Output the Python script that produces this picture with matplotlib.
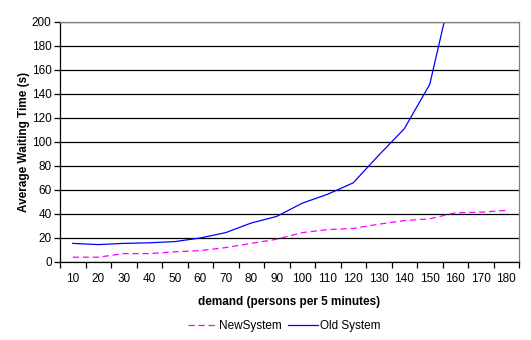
import numpy as np
import matplotlib
matplotlib.use("Agg")
import matplotlib.pyplot as plt

plt.rcParams['font.family'] = ['Liberation Sans', 'DejaVu Sans']

demand = [10, 20, 30, 40, 50, 60, 70, 80, 90, 100, 110, 120, 130, 140, 150, 160, 170, 180]
new_system = [4, 4, 7, 7, 8.5, 9.5, 12, 15.5, 19, 24.5, 27, 28, 31.5, 34.5, 36, 41, 41.5, 43]
old_system = [15.5, 14.5, 15.5, 16, 17, 20, 24.5, 32.5, 38, 49, 56.5, 66, 89, 111, 148, 240, None, None]

x = np.arange(len(demand))
old_vals = np.array([np.nan if v is None else v for v in old_system], dtype=float)

fig = plt.figure(figsize=(5.31, 3.40), dpi=100)
ax = fig.add_axes([60 / 531, 78 / 340, 459 / 531, 240 / 340])

ax.plot(x, new_system, color='#FF00FF', lw=0.9, dashes=(5, 3), label='NewSystem')
ax.plot(x, old_vals, color='#0000FF', lw=0.9, label='Old System')

ax.set_xlim(-0.5, len(demand) - 0.5)
ax.set_ylim(0, 200)
ax.set_yticks(np.arange(0, 201, 20))
ax.yaxis.grid(True, color='black', lw=0.9)
ax.set_axisbelow(True)

ax.set_xticks(np.arange(-0.5, len(demand), 1))
ax.set_xticklabels([])
ax.set_xticks(x, minor=True)
ax.set_xticklabels([str(d) for d in demand], minor=True)
ax.tick_params(axis='x', which='major', length=4, width=0.9, color='black', direction='out')
ax.tick_params(axis='x', which='minor', length=0, pad=8, labelsize=8.5)
ax.tick_params(axis='y', length=4, width=0.9, labelsize=8.5, pad=2)

for s in ['top', 'right']:
    ax.spines[s].set_color('#808080')
    ax.spines[s].set_linewidth(0.9)
for s in ['left', 'bottom']:
    ax.spines[s].set_color('black')
    ax.spines[s].set_linewidth(0.9)

ax.set_xlabel('demand (persons per 5 minutes)', fontsize=8.5, fontweight='bold', labelpad=8)
ax.set_ylabel('Average Waiting Time (s)', fontsize=8.5, fontweight='bold', labelpad=1)

fig.legend(loc='center', bbox_to_anchor=(284 / 531, 1 - 326 / 340), ncol=2, frameon=False,
           fontsize=8.5, handlelength=2.5, handletextpad=0.2, columnspacing=0.5)

fig.savefig('out.png', dpi=100)
